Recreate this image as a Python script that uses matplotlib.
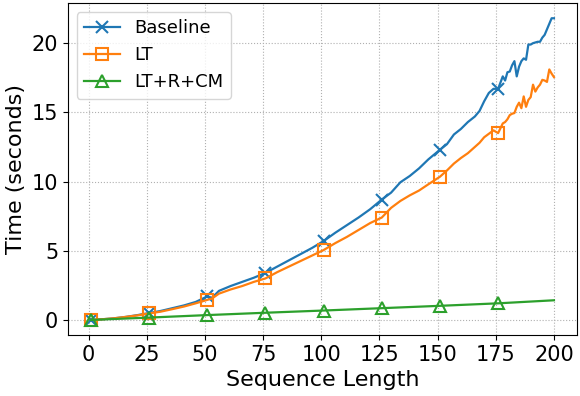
import matplotlib
matplotlib.use("Agg")
import matplotlib.pyplot as plt

seq_len = [1, 6, 11, 16, 21, 26, 31, 36, 41, 46, 51, 53, 56, 61, 66, 71, 76, 81, 86, 91,
           96, 101, 106, 111, 116, 121, 126, 130, 134, 138, 142, 146, 151, 154, 157, 160,
           163, 166, 168, 170, 172, 174, 176, 178, 179, 180, 181, 182, 183, 184, 185, 186,
           187, 188, 189, 190, 191, 192, 193, 194, 195, 196, 197, 198, 199, 200]

baseline = [0.0, 0.05, 0.12, 0.22, 0.35, 0.5, 0.65, 0.85, 1.05, 1.3, 1.7, 1.6, 2.1, 2.45,
            2.75, 3.05, 3.4, 3.85, 4.3, 4.75, 5.2, 5.7, 6.3, 6.85, 7.4, 8.0, 8.7, 9.2, 9.95,
            10.4, 10.95, 11.6, 12.3, 12.7, 13.4, 13.8, 14.3, 14.7, 15.1, 15.8, 16.4, 16.7,
            16.7, 17.6, 17.3, 17.9, 17.95, 18.4, 18.7, 17.6, 18.3, 18.7, 18.9, 18.8, 19.9,
            19.9, 20.0, 20.05, 20.1, 20.1, 20.4, 20.6, 21.0, 21.4, 21.8, 21.8]

lt = [0.0, 0.05, 0.12, 0.22, 0.33, 0.47, 0.6, 0.78, 0.97, 1.2, 1.45, 1.55, 1.9, 2.2, 2.45,
      2.75, 3.0, 3.45, 3.85, 4.25, 4.65, 5.05, 5.55, 6.0, 6.5, 7.0, 7.4, 8.1, 8.6, 9.0,
      9.35, 9.8, 10.35, 10.8, 11.3, 11.7, 12.05, 12.5, 12.8, 13.2, 13.45, 13.7, 13.5, 14.2,
      14.3, 14.5, 14.8, 14.9, 14.95, 15.4, 15.7, 15.3, 16.15, 15.4, 15.9, 16.1, 17.0, 16.5,
      16.8, 17.0, 17.35, 17.3, 17.2, 18.1, 17.8, 17.55]

seq_len_cm = [1, 26, 51, 76, 101, 126, 151, 176, 200]
lt_r_cm = [0.0, 0.17, 0.35, 0.52, 0.68, 0.85, 1.02, 1.2, 1.42]

marker_at = [1, 26, 51, 76, 101, 126, 151, 176]
idx = [seq_len.index(m) for m in marker_at]
idx_cm = [seq_len_cm.index(m) for m in marker_at]

fig, ax = plt.subplots(figsize=(5.8, 3.96), dpi=100)
fig.subplots_adjust(left=0.117, right=0.995, bottom=0.154, top=0.992)

ax.plot(seq_len, baseline, color="C0", lw=1.6, marker="x", ms=8, mew=1.5,
        markevery=idx, label="Baseline")
ax.plot(seq_len, lt, color="C1", lw=1.6, marker="s", ms=8, mew=1.5, mfc="none",
        markevery=idx, label="LT")
ax.plot(seq_len_cm, lt_r_cm, color="C2", lw=1.6, marker="^", ms=8, mew=1.5, mfc="none",
        markevery=idx_cm, label="LT+R+CM")

ax.set_xticks(range(0, 201, 25))
ax.set_yticks([0, 5, 10, 15, 20])
ax.tick_params(labelsize=15)
ax.set_xlabel("Sequence Length", fontsize=16)
ax.set_ylabel("Time (seconds)", fontsize=16)
ax.grid(True, linestyle=":", color="#b0b0b0")
ax.legend(loc="upper left", fontsize=13)

fig.savefig("out.png")
